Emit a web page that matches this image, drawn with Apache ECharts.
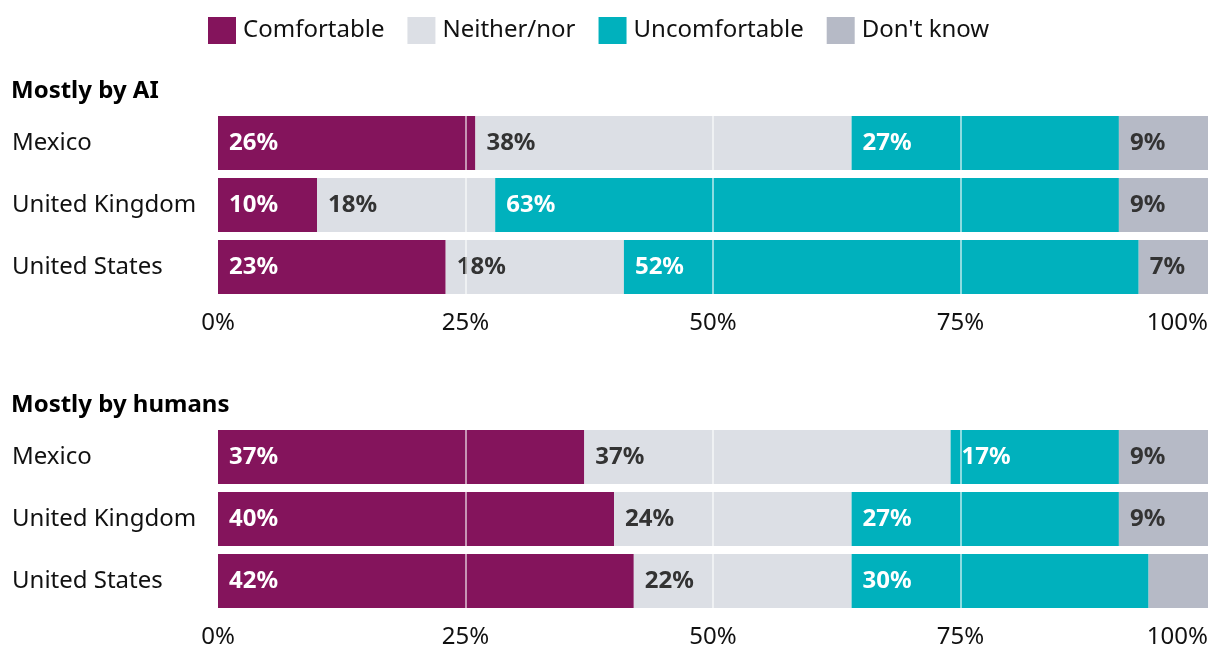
<!DOCTYPE html>
<html>
<head>
<meta charset="utf-8">
<script src="https://cdn.jsdelivr.net/npm/echarts@6/dist/echarts.min.js"></script>
<style>
html,body{margin:0;padding:0;background:#fff;}
#c{width:1220px;height:660px;}
</style>
</head>
<body>
<div id="c"></div>
<script>
const countries = ['Mexico', 'United Kingdom', 'United States'];
const seriesNames = ['Comfortable', 'Neither/nor', 'Uncomfortable', "Don't know"];
const panelTitles = ['Mostly by AI', 'Mostly by humans'];
const tickValues = [0, 25, 50, 75, 100];

// Mostly by AI
const aiComfortable = [26, 10, 23];
const aiNeither = [38, 18, 18];
const aiUncomfortable = [27, 63, 52];
const aiDontKnow = [9, 9, 7];

// Mostly by humans
const humComfortable = [37, 40, 42];
const humNeither = [37, 24, 22];
const humUncomfortable = [17, 27, 30];
const humDontKnow = [9, 9, 6];

const colors = ['#84145C', '#DCDFE5', '#00B1BD', '#B6BAC6'];
const labelColors = ['#ffffff', '#333333', '#ffffff', '#333333'];
const FONT = 'Noto Sans';

const panels = [
  [aiComfortable, aiNeither, aiUncomfortable, aiDontKnow],
  [humComfortable, humNeither, humUncomfortable, humDontKnow]
];
const gridTops = [112, 426];
const gridHeight = 186;

const grids = gridTops.map(t => ({left: 218, right: 12, top: t, height: gridHeight}));

const xAxes = gridTops.map((t, i) => ({
  type: 'value', gridIndex: i, min: tickValues[0], max: tickValues[tickValues.length - 1], interval: 25, z: 10,
  axisLine: {show: false}, axisTick: {show: false},
  axisLabel: {
    formatter: v => v + '%', fontFamily: FONT, fontSize: 24, color: '#111',
    margin: 13, alignMaxLabel: 'right', alignMinLabel: 'center'
  },
  splitLine: {show: true, showMinLine: false, showMaxLine: false,
    lineStyle: {color: 'rgba(255,255,255,0.55)', width: 2}}
}));

const yAxes = gridTops.map((t, i) => ({
  type: 'category', gridIndex: i, data: countries, inverse: true,
  axisLine: {show: false}, axisTick: {show: false},
  axisLabel: {align: 'left', margin: 206, fontFamily: FONT, fontSize: 24, color: '#111'}
}));

const series = [];
panels.forEach((vals, pi) => {
  vals.forEach((arr, si) => {
    series.push({
      type: 'bar', name: seriesNames[si], stack: 'p' + pi,
      xAxisIndex: pi, yAxisIndex: pi, data: arr,
      barWidth: 54,
      itemStyle: {color: colors[si]},
      label: {
        show: true, position: 'insideLeft', distance: 11,
        fontFamily: FONT, fontSize: 24, fontWeight: 'bold', color: labelColors[si],
        formatter: p => p.value >= 7 ? p.value + '%' : ''
      },
      emphasis: {disabled: true}
    });
  });
});

const chart = echarts.init(document.getElementById('c'), null, {renderer: 'canvas'});
chart.setOption({
  animation: false,
  textStyle: {fontFamily: FONT},
  title: panelTitles.map((t, i) => ({
    text: t, left: 6, top: [74, 388][i],
    textStyle: {fontFamily: FONT, fontSize: 24, fontWeight: 'bold', color: '#000'}
  })),
  legend: {
    data: seriesNames, left: 208, top: 17, padding: 0,
    itemWidth: 28, itemHeight: 27, itemGap: 23, icon: 'rect',
    textStyle: {fontFamily: FONT, fontSize: 24, color: '#111', padding: [0, 0, 0, 2]},
    selectedMode: false
  },
  grid: grids,
  xAxis: xAxes,
  yAxis: yAxes,
  series: series
});
</script>
</body>
</html>
